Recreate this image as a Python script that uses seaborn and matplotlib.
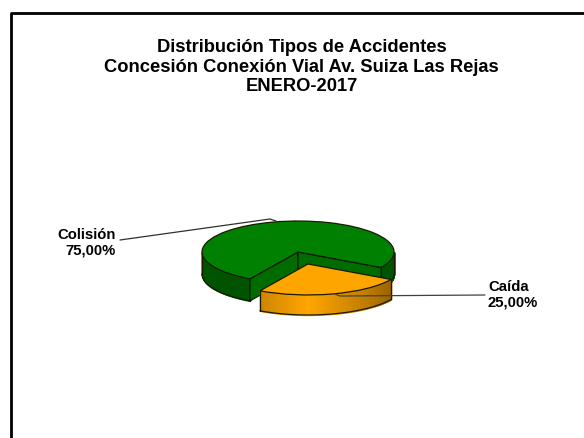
import numpy as np
import matplotlib
matplotlib.use("Agg")
import matplotlib.pyplot as plt
import seaborn as sns

categories = ["Colisión", "Caída"]
values = [75, 25]
value_labels = ["75,00%", "25,00%"]
title_lines = ["Distribución Tipos de Accidentes",
               "Concesión Conexión Vial Av. Suiza Las Rejas",
               "ENERO-2017"]
colors = ["#008000", "#FFA500"]

W, H = 584, 439
CX, CY, RX, RY = 298, 253, 96, 31
DEPTH_GREEN = 22 / RY
DEPTH_ORANGE = 20 / RY
START = -30
EXPLODE = [0, 0.4]
OUTLINE = "#1a1a00"

sns.set_theme(style="white")
plt.rcParams["font.family"] = ["Liberation Sans", "DejaVu Sans"]

fig = plt.figure(figsize=(W / 100, H / 100), dpi=100)
fig.patch.set_facecolor("white")

# frame drawn in pixel coordinates
bg = fig.add_axes([0, 0, 1, 1], facecolor="none")
bg.set_xlim(0, W)
bg.set_ylim(H, 0)
bg.axis("off")
bg.plot([11, 11, W], [H, 14, 14], color="black", lw=2, solid_capstyle="butt")

# pie axes: one data unit is RX px across and RY px down
x0, x1 = -CX / RX, (W - CX) / RX
y0, y1 = -(H - CY) / RY, CY / RY
ax = fig.add_axes([0, 0, 1, 1], facecolor="none")


def rim(center, a0, a1, base, depth, z, edge=0.6, mid=1.0, n=40):
    # outer wall as thin strips, brighter toward the front
    base = matplotlib.colors.to_rgb(base)
    angs = np.radians(np.linspace(a0, a1, n + 1))
    for i in range(n):
        a = angs[i:i + 2]
        px = center[0] + np.cos(a)
        py = center[1] + np.sin(a)
        t = abs(a.mean() - np.radians(270)) / np.radians(60)
        f = mid + (edge - mid) * min(t, 1)
        ax.fill_between(px, py, py - depth, color=tuple(c * f for c in base), lw=1, zorder=z)
    for a in (angs[0], angs[-1]):
        px = center[0] + np.cos(a)
        py = center[1] + np.sin(a)
        ax.plot([px, px], [py, py - depth], color=OUTLINE, lw=0.9, zorder=z + 0.1)
    ax.plot(center[0] + np.cos(angs), center[1] + np.sin(angs) - depth,
            color=OUTLINE, lw=0.9, zorder=z + 0.1)


def cut(center, a, base, depth, z):
    px = center[0] + np.cos(np.radians(a))
    py = center[1] + np.sin(np.radians(a))
    xs = [center[0], px, px, center[0]]
    ys = [center[1], py, py - depth, center[1] - depth]
    ax.fill(xs, ys, color=base, ec="#002000", lw=0.9, zorder=z)


a_split = START + 360 * values[0] / sum(values)
green_c = (0, 0)
mid = np.radians((a_split + START + 360) / 2)
orange_c = (EXPLODE[1] * np.cos(mid), EXPLODE[1] * np.sin(mid))

# green walls
rim(green_c, a_split - 60, a_split, colors[0], DEPTH_GREEN, 2, edge=0.66, mid=0.66)
rim(green_c, START, 0, colors[0], DEPTH_GREEN, 2, edge=0.66, mid=0.66)
cut(green_c, a_split, "#006c00", DEPTH_GREEN, 2.5)
cut(green_c, START, "#006c00", DEPTH_GREEN, 2.5)
# orange wall sits in front of the green ones
rim(orange_c, a_split, START + 360, colors[1], DEPTH_ORANGE, 3.5, edge=0.6, mid=1.0)

wedges, _ = ax.pie(values, colors=colors, startangle=START, explode=EXPLODE,
                   counterclock=True, radius=1,
                   wedgeprops=dict(edgecolor=OUTLINE, linewidth=0.9))
wedges[0].set_zorder(3)
wedges[1].set_zorder(4)
ax.set_aspect("auto")
ax.set_xlim(x0, x1)
ax.set_ylim(y0, y1)
ax.axis("off")

# leader lines
bg.plot([120, 270, 276], [241, 220, 222], color="#303030", lw=0.9)
bg.plot([335, 340, 485], [295, 297, 296], color="#404040", lw=0.9)
ax.set_zorder(1)
bg.set_zorder(2)

for i, line in enumerate(title_lines):
    bg.text(301.5, 47.5 + 19.5 * i, line, ha="center", va="center",
            fontsize=13.2, fontweight="bold", color="black")

bg.text(116, 235, categories[0], ha="right", va="center", fontsize=10.7, fontweight="bold", color="black")
bg.text(116, 251, value_labels[0], ha="right", va="center", fontsize=10.7, fontweight="bold", color="black")
bg.text(488, 287, categories[1], ha="left", va="center", fontsize=10.7, fontweight="bold", color="black")
bg.text(488, 303, value_labels[1], ha="left", va="center", fontsize=10.7, fontweight="bold", color="black")

fig.savefig("out.png", dpi=100)
